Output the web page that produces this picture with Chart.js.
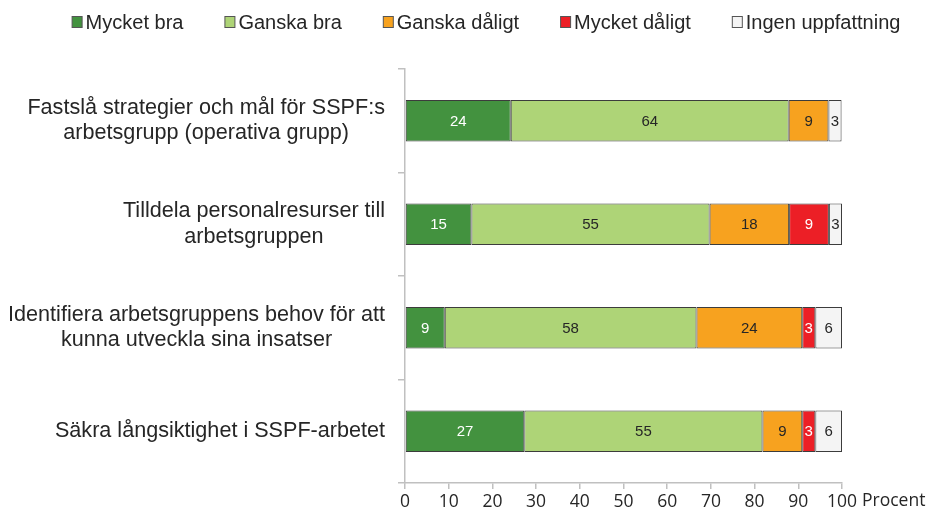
<!DOCTYPE html>
<html>
<head>
<meta charset="utf-8">
<script src="https://cdn.jsdelivr.net/npm/chart.js@4.4.1/dist/chart.umd.min.js"></script>
<style>
  html, body { margin: 0; padding: 0; background: #fff; }
  #wrap { width: 928px; height: 510px; position: relative; }
</style>
</head>
<body>
<div id="wrap"><canvas id="chart"></canvas></div>
<script>
// Svar per fråga (procent)
const categories = [
    ['Fastslå strategier och mål för SSPF:s', 'arbetsgrupp (operativa grupp)'],
    ['Tilldela personalresurser till', 'arbetsgruppen'],
    ['Identifiera arbetsgruppens behov för att', 'kunna utveckla sina insatser'],
    ['Säkra långsiktighet i SSPF-arbetet']
];
const seriesNames = ['Mycket bra', 'Ganska bra', 'Ganska dåligt', 'Mycket dåligt', 'Ingen uppfattning'];
const mycketBra = [24.2, 15.2, 9.1, 27.3];
const ganskaBra = [63.6, 54.5, 57.6, 54.5];
const ganskaDaligt = [9.1, 18.2, 24.2, 9.1];
const mycketDaligt = [null, 9.1, 3.0, 3.0];
const ingenUppfattning = [3.0, 3.0, 6.1, 6.1];
const xTicks = [0, 10, 20, 30, 40, 50, 60, 70, 80, 90, 100];
const xUnit = 'Procent';

const colors = ['#43923f', '#aed477', '#f7a21f', '#ec1f26', '#f4f4f4'];
const labelColors = ['#ffffff', '#262626', '#262626', '#ffffff', '#262626'];
const textFont = '"Liberation Sans", Arial, sans-serif';

const seriesData = [mycketBra, ganskaBra, ganskaDaligt, mycketDaligt, ingenUppfattning];

// y-axis labels, block right aligned, lines centered
const categoryLabels = {
    id: 'categoryLabels',
    afterDraw(chart) {
        const ctx = chart.ctx;
        const y = chart.scales.y;
        ctx.save();
        ctx.font = '21.6px ' + textFont;
        ctx.fillStyle = '#262626';
        ctx.textAlign = 'center';
        ctx.textBaseline = 'middle';
        categories.forEach((lines, i) => {
            const widest = Math.max(...lines.map(l => ctx.measureText(l).width));
            const cx = 385 - widest / 2;
            const cy = y.getPixelForValue(i);
            const lh = 25.5;
            lines.forEach((line, j) => {
                ctx.fillText(line, cx, cy + (j - (lines.length - 1) / 2) * lh);
            });
        });
        ctx.restore();
    }
};

// values inside the bars
const barValues = {
    id: 'barValues',
    afterDatasetsDraw(chart) {
        const ctx = chart.ctx;
        ctx.save();
        ctx.font = '15px ' + textFont;
        ctx.textAlign = 'center';
        ctx.textBaseline = 'middle';
        chart.data.datasets.forEach((ds, di) => {
            const meta = chart.getDatasetMeta(di);
            meta.data.forEach((bar, i) => {
                const v = ds.data[i];
                if (v == null) return;
                ctx.fillStyle = labelColors[di];
                ctx.fillText(String(Math.round(v)), (bar.x + bar.base) / 2, bar.y + 1);
            });
        });
        ctx.restore();
    }
};

// legend on top + unit label after the x axis
const topLegend = {
    id: 'topLegend',
    afterDraw(chart) {
        const ctx = chart.ctx;
        ctx.save();
        ctx.font = '20px ' + textFont;
        ctx.textBaseline = 'middle';
        const gap = 41;
        const widths = chart.data.datasets.map(ds => 14 + ctx.measureText(ds.label).width);
        const total = widths.reduce((a, b) => a + b, 0) + gap * (widths.length - 1);
        let x = 486 - total / 2;
        const cy = 22;
        chart.data.datasets.forEach((ds, i) => {
            ctx.fillStyle = ds.backgroundColor;
            ctx.fillRect(x + 0.5, cy - 5.5, 10, 11);
            ctx.strokeStyle = '#555';
            ctx.lineWidth = 1;
            ctx.strokeRect(x + 0.5, cy - 5.5, 10, 11);
            ctx.fillStyle = '#262626';
            ctx.textAlign = 'left';
            ctx.fillText(ds.label, x + 14, cy + 1);
            x += widths[i] + gap;
        });

        const xs = chart.scales.x;
        ctx.font = '17.5px "Open Sans", sans-serif';
        ctx.fillStyle = '#262626';
        ctx.textAlign = 'left';
        ctx.fillText(xUnit, xs.right + 20, 501);
        ctx.restore();
    }
};

const ctx = document.getElementById('chart').getContext('2d');
new Chart(ctx, {
    type: 'bar',
    data: {
        labels: categories.map(c => c.join(' ')),
        datasets: seriesNames.map((name, i) => ({
            label: name,
            data: seriesData[i],
            backgroundColor: colors[i],
            borderColor: '#3c3c3c',
            borderWidth: 1,
            borderSkipped: false,
            barPercentage: 0.4,
            categoryPercentage: 1
        }))
    },
    options: {
        indexAxis: 'y',
        responsive: true,
        maintainAspectRatio: false,
        animation: false,
        layout: {
            padding: { top: 69, right: 86, left: 0, bottom: 0 }
        },
        plugins: {
            legend: { display: false },
            tooltip: { enabled: false }
        },
        scales: {
            x: {
                stacked: true,
                min: 0,
                max: 100,
                afterBuildTicks(scale) {
                    scale.ticks = xTicks.map(v => ({ value: v }));
                },
                afterFit(scale) {
                    scale.height = 27;
                },
                border: { color: '#c0c0c0', width: 1.5 },
                grid: {
                    drawOnChartArea: false,
                    drawTicks: true,
                    tickLength: 6,
                    color: '#c0c0c0',
                    lineWidth: 1.5
                },
                ticks: {
                    color: '#262626',
                    font: { family: '"Open Sans", sans-serif', size: 17.5 },
                    padding: 3,
                    maxRotation: 0
                }
            },
            y: {
                stacked: true,
                offset: true,
                afterFit(scale) {
                    scale.width = 405;
                },
                border: { color: '#c0c0c0', width: 1.5 },
                grid: {
                    offset: true,
                    drawOnChartArea: false,
                    drawTicks: true,
                    tickLength: 7,
                    color: '#c0c0c0',
                    lineWidth: 1.5
                },
                ticks: { display: false }
            }
        }
    },
    plugins: [categoryLabels, barValues, topLegend]
});
</script>
</body>
</html>
